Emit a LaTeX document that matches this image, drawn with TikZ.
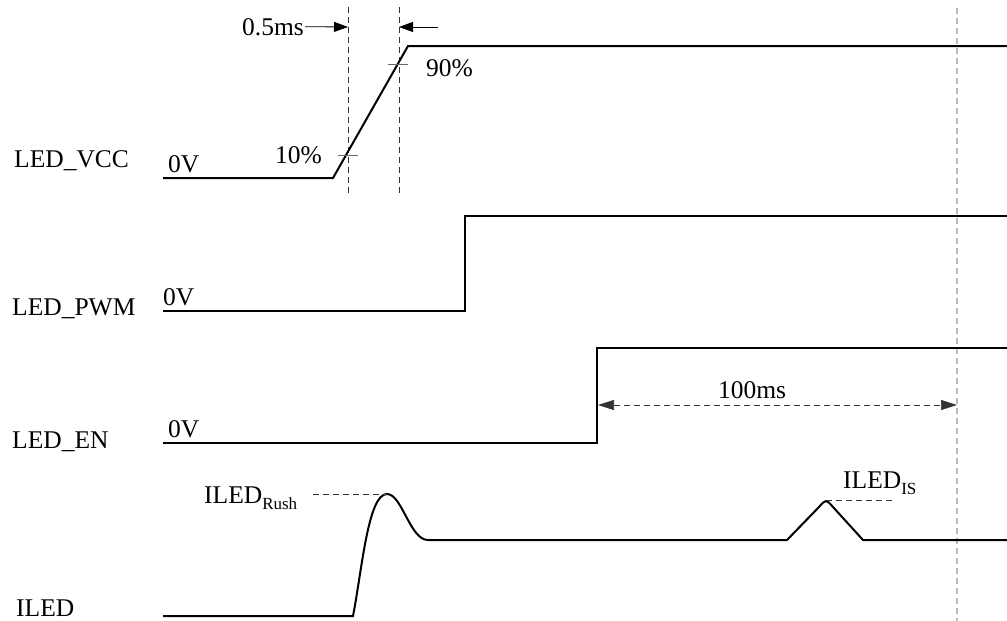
\documentclass[tikz,border=0pt]{standalone}
\usepackage{fontspec}
\setmainfont{Liberation Serif}
\usetikzlibrary{arrows.meta}
\newcommand{\subtxt}[1]{\raisebox{-0.25em}{\fontsize{17}{19}\selectfont #1}}
\begin{document}
\begin{tikzpicture}[x=1pt,y=-1pt,
  wave/.style={line width=2pt, line join=miter},
  guide/.style={black!80, line width=0.7pt, dash pattern=on 6pt off 4pt},
  vline/.style={gray!55, line width=1.5pt, dash pattern=on 6pt off 4pt},
  lbl/.style={anchor=base west, inner sep=0pt, font=\fontsize{25.5}{30}\selectfont},
  tickmark/.style={black!60, line width=0.8pt},
  dimarrow/.style={line width=0.8pt, -{Triangle[length=14pt,width=10pt]}},
  dimboth/.style={{Triangle[length=16pt,width=10pt]}-{Triangle[length=16pt,width=10pt]}},
]
\useasboundingbox (0,0) rectangle (1007,621);

% right reference line
\draw[vline] (957,8) -- (957,621);

% LED_VCC
\draw[guide] (348,7) -- (348,196);
\draw[guide] (399,7) -- (399,196);
\draw[wave] (163,178) -- (333,178) -- (408,46) -- (1007,46);
\draw[tickmark] (338,155) -- (358,155);
\draw[tickmark] (388,64) -- (408,64);
\node[lbl] (vcc) at (14,167) {LED\_VCC};
\node[lbl] (vcc0) at (168,172) {0V};
\node[lbl] (p10) at (275,163) {10\%};
\node[lbl] (p90) at (426,76) {90\%};
\node[lbl] (t05) at (242,35) {0.5ms};
\coordinate (a1) at (348,27);
\coordinate (a2s) at (438,27);
\coordinate (a2) at (399,27);
\draw[dimarrow] ([xshift=1pt]t05.east) -- (a1);
\draw[dimarrow] (a2s) -- (a2);

% LED_PWM
\draw[wave] (163,311) -- (465,311) -- (465,216) -- (1007,216);
\node[lbl] (pwm) at (12,315) {LED\_PWM};
\node[lbl] (pwm0) at (163,305) {0V};

% LED_EN
\draw[wave] (163,443) -- (597,443) -- (597,348) -- (1007,348);
\node[lbl] (en) at (12,448) {LED\_EN};
\node[lbl] (en0) at (168,437) {0V};
\coordinate (d1) at (598,405);
\coordinate (d2) at (957,405);
\draw[guide, dimboth] (d1) -- (d2);
\node[lbl, anchor=base] (t100) at (752,398) {100ms};

% ILED
\draw[wave] (163,616) -- (353,616)
  .. controls (362,570) and (368,494) .. (387,494)
  .. controls (402,494) and (410,540) .. (428,540)
  -- (787,540) -- (819,507) .. controls (826,499) .. (833,507)
  -- (863,540) -- (1007,540);
\draw[guide] (313,494) -- (387,494);
\draw[guide] (826,500) -- (896,500);
\node[lbl] (iled) at (16,616) {ILED};
\node[lbl] (rush) at (204,503) {ILED\subtxt{Rush}};
\node[lbl] (is) at (843,488) {ILED\subtxt{IS}};
\end{tikzpicture}
\end{document}
